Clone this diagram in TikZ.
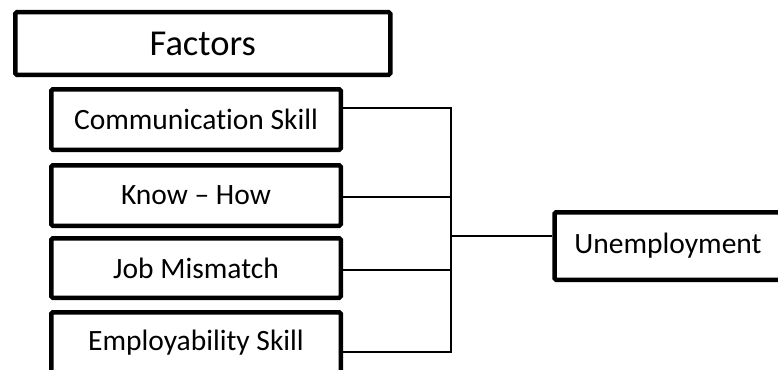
\documentclass[tikz,border=0pt]{standalone}
\usepackage{fontspec}
\setmainfont[Ligatures=NoCommon]{Carlito}
\usetikzlibrary{calc}

\begin{document}
\begin{tikzpicture}[x=1pt, y=-1pt]
    \tikzstyle{factorbox} = [rectangle, draw, line width=4.5pt, rounded corners=1.5pt, inner sep=0pt, minimum width=289.5pt, minimum height=60.5pt, font=\fontsize{29.5}{32}\selectfont]
    \tikzstyle{link} = [line width=1.5pt]

    \useasboundingbox (0, 0) rectangle (778, 369);

    % Factors ----------------------------------------
    \node (F) at (202.8, 43.5) [factorbox, minimum width=375pt, minimum height=62.5pt, font=\fontsize{36.5}{40}\selectfont] {Factors};
    \node (F1) at (196, 119.5) [factorbox] {Communication Skill};
    \node (F2) at (196, 195.5) [factorbox] {Know -- How};
    \node (F3) at (196, 268) [factorbox, minimum height=59.5pt] {Job Mismatch};
    \node (F4) at (196, 342.5) [factorbox] {Employability Skill};
    % ---------------------------------------------------

    % Outcome -------------------------------------------
    \node (U) at (668, 246) [factorbox, minimum width=227pt, minimum height=67.5pt] {Unemployment};
    \coordinate (bus) at (451, 236);

    \draw [link] ([yshift=11.5pt]F1.east) -| (bus);
    \draw [link] ([yshift=-1.5pt]F2.east) -| (bus);
    \draw [link] ([yshift=-2pt]F3.east) -| (bus);
    \draw [link] ([yshift=-9.5pt]F4.east) -| (bus);
    \draw [link] (bus) -- ([yshift=10pt]U.west);
\end{tikzpicture}
\end{document}
